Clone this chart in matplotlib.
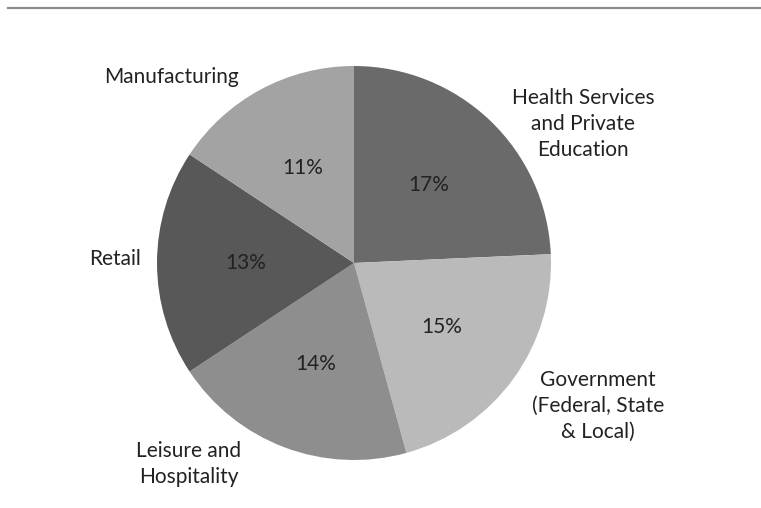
import matplotlib
matplotlib.use("Agg")
import matplotlib.pyplot as plt
from matplotlib.lines import Line2D

# share of jobs by sector (percent, as shown on the chart)
sectors = ["Health Services\nand Private\nEducation",
           "Government\n(Federal, State\n& Local)",
           "Leisure and\nHospitality",
           "Retail",
           "Manufacturing"]
shares = [17, 15, 14, 13, 11]
colors = ["#6a6a6a", "#bababa", "#8e8e8e", "#585858", "#a3a3a3"]

plt.rcParams["font.family"] = ["Lato", "DejaVu Sans"]

W, H = 761, 508
fig = plt.figure(figsize=(W / 100, H / 100), dpi=100)
ax = fig.add_axes([0, 0, 1, 1])

cx, cy, r = 354, 508 - 263, 197
total = sum(shares)
wedges, autotexts = ax.pie(
    shares, colors=colors, startangle=90, counterclock=False,
    center=(cx, cy), radius=r, pctdistance=0.55,
    autopct=lambda p: f"{round(p * total / 100)}%",
    textprops=dict(fontsize=15, color="#222222"),
    wedgeprops=dict(linewidth=0),
)[0::2]

# outer label positions (pixel offsets from pie centre)
label_pos = [(229, 139), (244, -143), (-165, -201), (-239, 4), (-183, 186)]
for name, (dx, dy) in zip(sectors, label_pos):
    ax.text(cx + dx, cy + dy, name, ha="center", va="center",
            fontsize=15, color="#222222", linespacing=1.35)

ax.set_xlim(0, W)
ax.set_ylim(0, H)
ax.set_aspect("equal")
ax.axis("off")

fig.add_artist(Line2D([8 / W, 1], [1 - 8 / H, 1 - 8 / H], color="#8c8c8c", lw=1.6))

fig.savefig("out.png", dpi=100, facecolor="white")
